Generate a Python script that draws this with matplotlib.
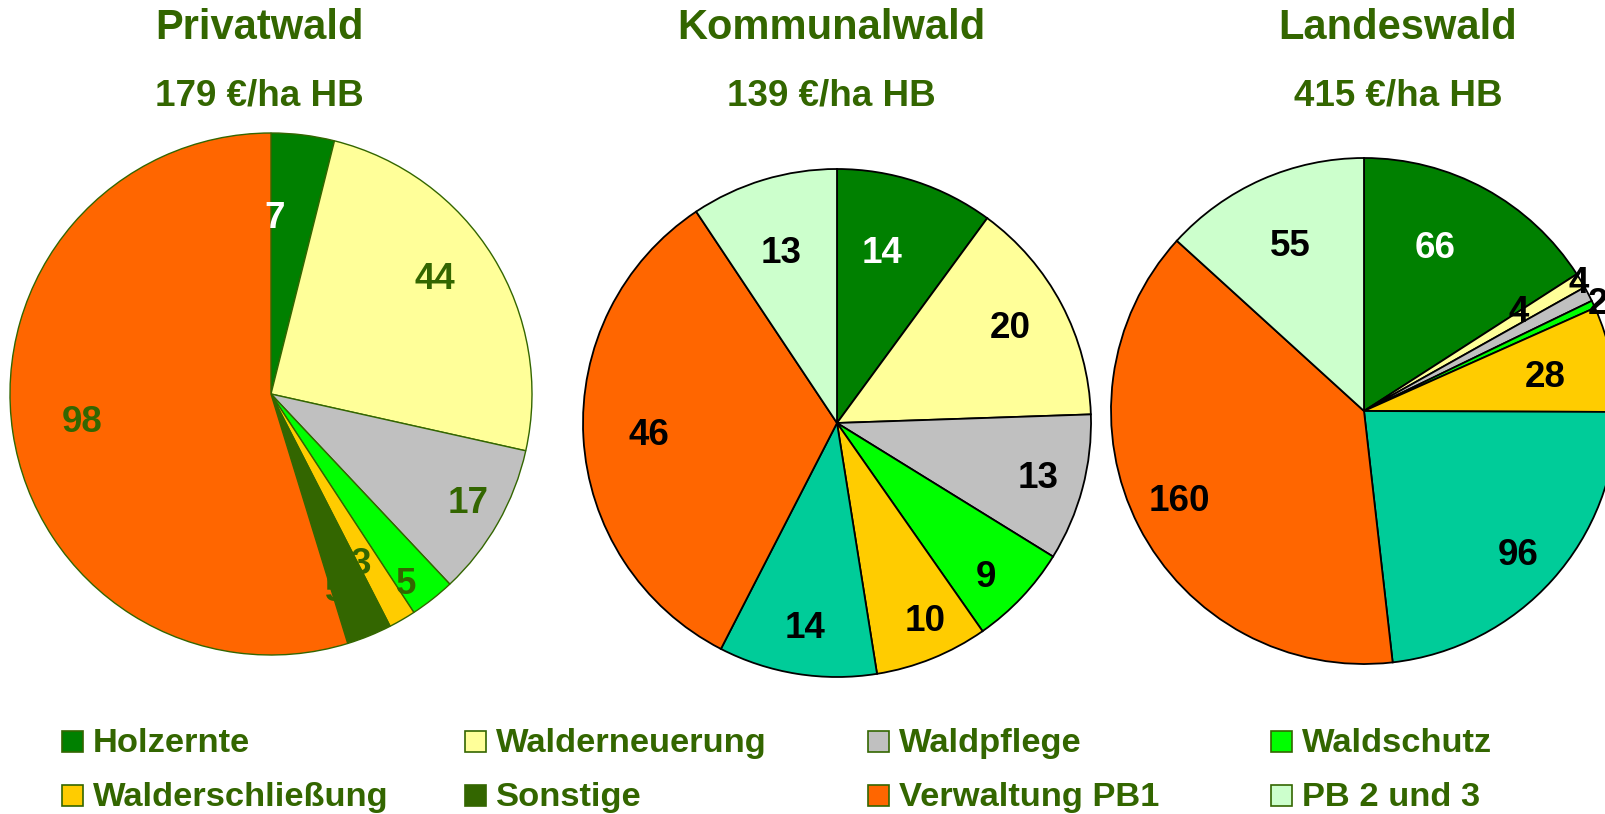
import matplotlib
matplotlib.use("Agg")
import matplotlib.pyplot as plt
from matplotlib.patches import Rectangle
import numpy as np

plt.rcParams['font.family'] = ['Liberation Sans', 'DejaVu Sans']

# ---------------- data ----------------
categories = ["Holzernte", "Walderneuerung", "Waldpflege", "Waldschutz",
              "Walderschließung", "Sonstige", "Verwaltung PB1", "PB 2 und 3"]
titles = ["Privatwald", "Kommunalwald", "Landeswald"]
subtitles = ["179 €/ha HB", "139 €/ha HB", "415 €/ha HB"]
privatwald = [7, 44, 17, 5, 3, 5, 98, 0]
kommunalwald = [14, 20, 13, 9, 10, 14, 46, 13]
landeswald = [66, 4, 4, 2, 28, 96, 160, 55]

# ---------------- style ----------------
TXT = "#336600"
colors = ["#008000", "#FFFF99", "#C0C0C0", "#00FF00",
          "#FFCC00", "#336600", "#FF6600", "#CCFFCC"]
sonstige_colors = ["#336600", "#00CC99", "#00CC99"]
edge_colors = ["#336600", "black", "black"]
edge_widths = [1.0, 1.3, 1.3]
label_colors = [TXT, "black", "black"]

W, H = 1605, 814
centers = [(271, H - 394), (837, H - 423), (1364, H - 411)]
radii = [261, 254, 253]
title_x = [259, 831, 1398]
# label placement: (angle offset deg, radius fraction)
label_pos = [
    [(6, 0.68), (3.6, 0.77), (1, 0.86), (-2.5, 0.89), (-2.3, 0.73), (-4, 0.79), (-0.7, 0.73), (0, 0.7)],
    [(3.4, 0.70), (1.3, 0.78), (0, 0.82), (-2.4, 0.84), (2.2, 0.85), (0, 0.81), (0, 0.74), (1.2, 0.71)],
    [(5.3, 0.71), (2, 0.73), (3.5, 0.99), (0, 1.02), (-1, 0.73), (-1, 0.83), (-1.5, 0.81), (0, 0.72)],
]

fig = plt.figure(figsize=(W / 100, H / 100), dpi=100)
ax = fig.add_axes([0, 0, 1, 1])

all_data = [privatwald, kommunalwald, landeswald]
for p, vals in enumerate(all_data):
    cols = list(colors)
    cols[5] = sonstige_colors[p]
    idx = [i for i, v in enumerate(vals) if v > 0]
    v_use = [vals[i] for i in idx]
    c_use = [cols[i] for i in idx]
    wedges, _ = ax.pie(v_use, colors=c_use, startangle=90, counterclock=False,
                       center=centers[p], radius=radii[p], frame=True,
                       wedgeprops=dict(edgecolor=edge_colors[p], linewidth=edge_widths[p]))
    cx, cy = centers[p]
    for k, (w, i) in enumerate(zip(wedges, idx)):
        mid = 0.5 * (w.theta1 + w.theta2)
        dang, frac = label_pos[p][i]
        a = np.deg2rad(mid + dang)
        x = cx + frac * radii[p] * np.cos(a)
        y = cy + frac * radii[p] * np.sin(a) - 2
        col = "white" if i == 0 else label_colors[p]
        ax.text(x, y, str(vals[i]), ha="center", va="center", fontsize=26.5,
                fontweight="bold", color=col)
    ax.text(title_x[p], H - 39, titles[p], ha="center", va="baseline",
            fontsize=30, fontweight="bold", color=TXT)
    ax.text(title_x[p], H - 106, subtitles[p], ha="center", va="baseline",
            fontsize=26.5, fontweight="bold", color=TXT)

# legend
leg_x0, leg_dx = 62, 403
leg_rows = [H - 752, H - 806]
for i, cat in enumerate(categories):
    r, c = divmod(i, 4)
    x = leg_x0 + c * leg_dx
    yb = leg_rows[r]
    ax.add_patch(Rectangle((x, yb), 21, 21, facecolor=colors[i],
                           edgecolor=TXT, linewidth=1.2))
    ax.text(x + 31, yb, cat, ha="left", va="baseline", fontsize=24.8,
            fontweight="bold", color=TXT)

ax.set_xlim(0, W)
ax.set_ylim(0, H)
ax.set_aspect("auto")
ax.axis("off")
fig.savefig("out.png", dpi=100)
